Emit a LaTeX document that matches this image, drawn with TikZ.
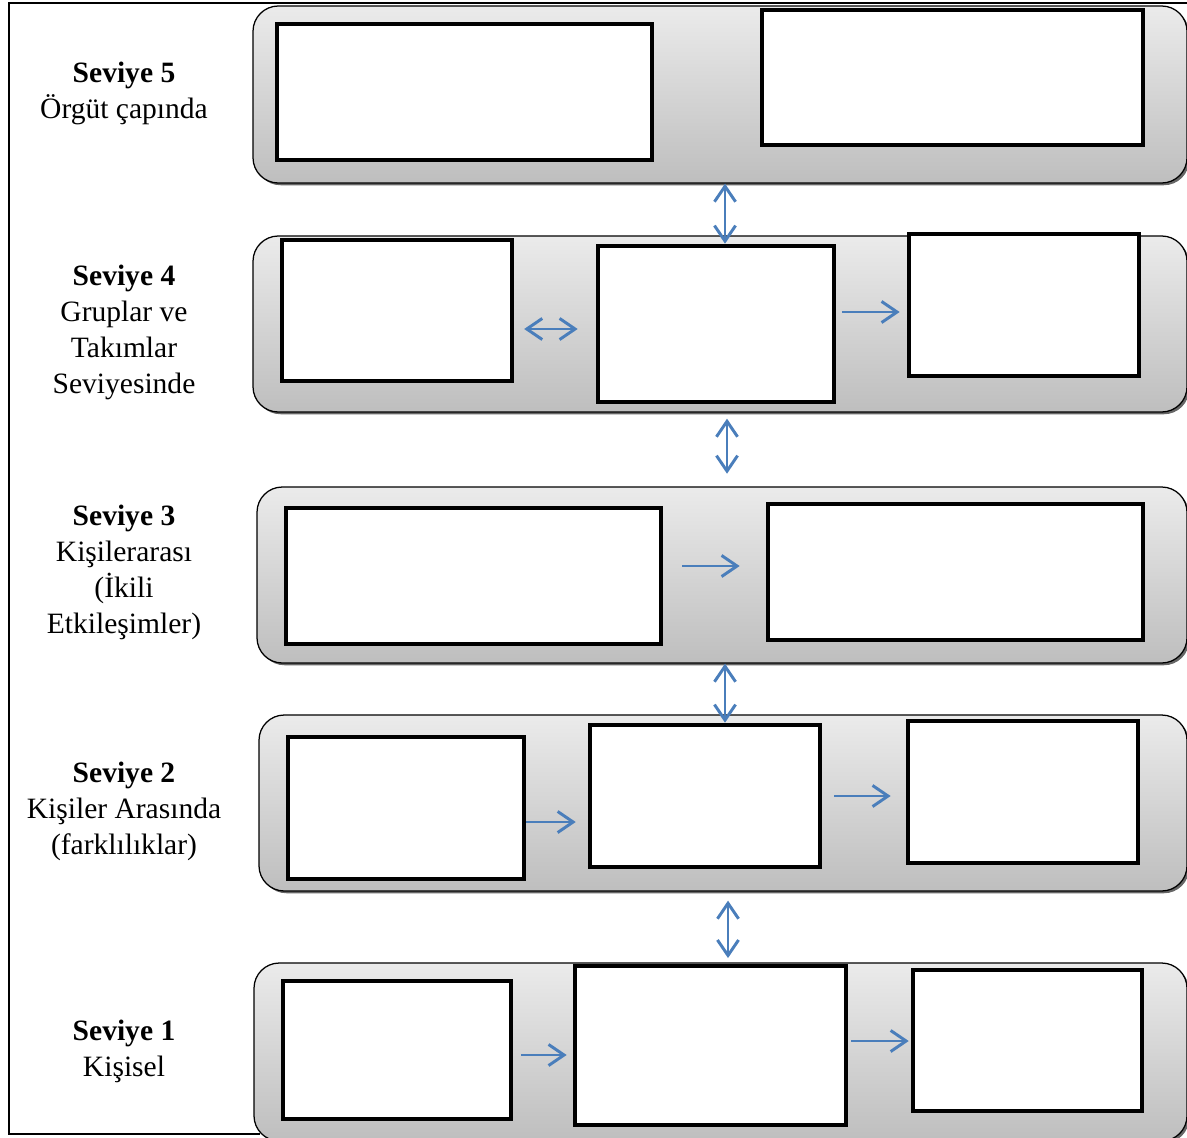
\documentclass[tikz,border=0pt]{standalone}
\usepackage{fontspec}
\setmainfont{Liberation Serif}
\usetikzlibrary{arrows.meta,fit,shadows}

\definecolor{flowblue}{HTML}{4A7EBB}
\definecolor{paneltop}{HTML}{EBEBEB}
\definecolor{panelbot}{HTML}{BEBEBE}

\tikzset{
  panel/.style={draw=black, line width=.9pt, rounded corners=18pt, top color=paneltop, bottom color=panelbot,
    inner sep=0pt, drop shadow={shadow xshift=1.6pt, shadow yshift=-1.6pt, fill=black!60, opacity=1}},
  blank/.style={draw=black, line width=3.3pt, fill=white, inner sep=0pt},
  flow/.style={draw=flowblue, line width=2.1pt, >={Straight Barb[length=11pt,width=15pt]}},
  level/.style={align=center, font=\fontsize{21pt}{25.6pt}\selectfont}
}

\begin{document}
\begin{tikzpicture}[x=0.025cm,y=-0.025cm]
  \clip (0,0) rectangle (1187,1137);
  % outer frame
  \draw[line width=1.4pt] (1187,3) -- (9,3) -- (9,1134) -- (260,1134);

  % level panels
  \node[panel, fit={(253,6) (1187,183)}] (p5) {};
  \node[panel, fit={(253,236) (1187,412)}] (p4) {};
  \node[panel, fit={(257,487) (1187,663)}] (p3) {};
  \node[panel, fit={(259,715) (1187,891)}] (p2) {};
  \node[panel, fit={(254,963) (1187,1141)}] (p1) {};

  % empty boxes
  \node[blank, fit={(277,24) (652,160)}] (a5) {};
  \node[blank, fit={(762,10) (1143,145)}] (b5) {};

  \node[blank, fit={(282,240) (512,381)}] (a4) {};
  \node[blank, fit={(598,246) (834,402)}] (b4) {};
  \node[blank, fit={(909,234) (1139,376)}] (c4) {};

  \node[blank, fit={(286,508) (661,644)}] (a3) {};
  \node[blank, fit={(768,504) (1143,640)}] (b3) {};

  \node[blank, fit={(288,737) (524,879)}] (a2) {};
  \node[blank, fit={(590,725) (820,867)}] (b2) {};
  \node[blank, fit={(908,721) (1138,863)}] (c2) {};

  \node[blank, fit={(283,981) (511,1119)}] (a1) {};
  \node[blank, fit={(575,966) (846,1125)}] (b1) {};
  \node[blank, fit={(913,970) (1142,1111)}] (c1) {};

  % level names
  \node[level] (l5) at (124,93) {\textbf{Seviye 5}\\Örgüt çapında};
  \node[level] (l4) at (124,332) {\textbf{Seviye 4}\\Gruplar ve\\Takımlar\\Seviyesinde};
  \node[level] (l3) at (124,572) {\textbf{Seviye 3}\\Kişilerarası\\(İkili\\Etkileşimler)};
  \node[level] (l2) at (124,811) {\textbf{Seviye 2}\\Kişiler Arasında\\(farklılıklar)};
  \node[level] (l1) at (124,1051) {\textbf{Seviye 1}\\Kişisel};

  % arrow lines
  \coordinate (v1) at (725,0); \coordinate (v2) at (727,0);
  \coordinate (v3) at (725,0); \coordinate (v4) at (728,0);
  \coordinate (h4a) at (0,329); \coordinate (h4b) at (0,312);
  \coordinate (h3) at (0,566);
  \coordinate (h2a) at (0,822); \coordinate (h2b) at (0,796);
  \coordinate (h1a) at (0,1055); \coordinate (h1b) at (0,1041);

  % between levels
  \draw[flow,<->] (p5.south -| v1) -- (b4.north -| v1);
  \draw[flow,<->,shorten <=4.3pt,shorten >=9pt] (p4.south -| v2) -- (p3.north -| v2);
  \draw[flow,<->] (p3.south -| v3) -- (b2.north -| v3);
  \draw[flow,<->,shorten <=6.4pt,shorten >=4pt] (p2.south -| v4) -- (b1.north -| v4);

  % within levels
  \draw[flow,<->,shorten <=7pt,shorten >=12.8pt] (a4.east |- h4a) -- (b4.west |- h4a);
  \draw[flow,->,shorten <=4pt,shorten >=5pt] (b4.east |- h4b) -- (c4.west |- h4b);
  \draw[flow,->,shorten <=13.5pt,shorten >=18.5pt] (a3.east |- h3) -- (b3.west |- h3);
  \draw[flow,->,shorten >=8.5pt] (a2.east |- h2a) -- (b2.west |- h2a);
  \draw[flow,->,shorten <=8.5pt,shorten >=10.7pt] (b2.east |- h2b) -- (c2.west |- h2b);
  \draw[flow,->,shorten <=5.7pt,shorten >=4.3pt] (a1.east |- h1a) -- (b1.west |- h1a);
  \draw[flow,->,shorten <=2pt,shorten >=1.4pt] (b1.east |- h1b) -- (c1.west |- h1b);
\end{tikzpicture}
\end{document}
